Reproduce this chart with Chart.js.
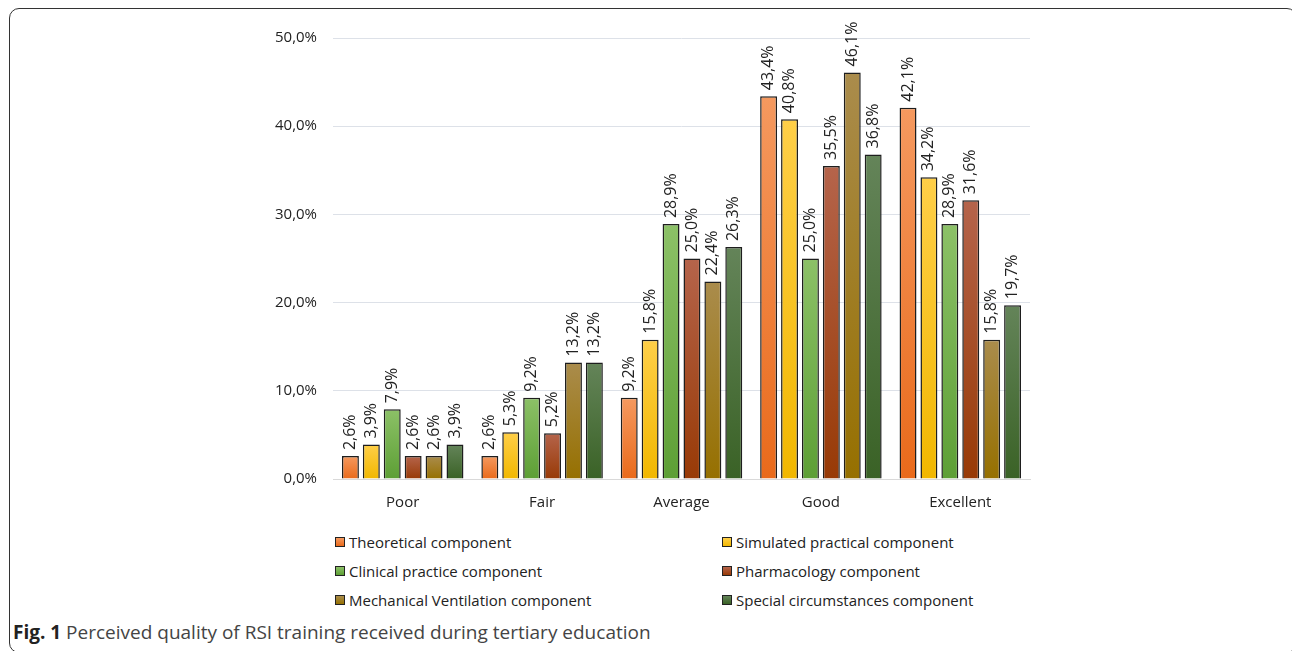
<!DOCTYPE html>
<html lang="en">
<head>
    <meta charset="UTF-8">
    <title>Perceived quality of RSI training</title>
    <script src="https://cdn.jsdelivr.net/npm/chart.js"></script>
    <style>
        body { margin: 0; background: #fff; font-family: "Open Sans", sans-serif; }
        .frame {
            position: absolute; left: 9px; top: 8px; width: 1288px; height: 645px;
            border: 1.5px solid #333; border-radius: 10px; box-sizing: border-box;
        }
        .chart-box { position: absolute; left: 240px; top: 0; width: 840px; height: 520px; }
        .legend {
            position: absolute; left: 335px; top: 532px;
            display: grid; grid-template-columns: 387px auto; row-gap: 9px;
            font-size: 15px; line-height: 20px; color: #222;
        }
        .legend-item { display: flex; align-items: center; white-space: nowrap; }
        .legend-item i {
            display: inline-block; width: 8px; height: 8px; margin-right: 4px;
            border: 1.2px solid #222;
        }
        .caption {
            position: absolute; left: 13px; top: 620px;
            font-size: 19px; line-height: 24px; color: #444; white-space: nowrap;
        }
        .caption b { color: #222; }
    </style>
</head>
<body>
    <div class="frame"></div>
    <div class="chart-box"><canvas id="rsiChart"></canvas></div>
    <div class="legend" id="legend"></div>
    <div class="caption"><b>Fig. 1</b> Perceived quality of RSI training received during tertiary education</div>

    <script>
        // カテゴリと各シリーズ（%）
        const categories = ['Poor', 'Fair', 'Average', 'Good', 'Excellent'];
        const seriesNames = [
            'Theoretical component',
            'Simulated practical component',
            'Clinical practice component',
            'Pharmacology component',
            'Mechanical Ventilation component',
            'Special circumstances component'
        ];
        const theoretical = [2.6, 2.6, 9.2, 43.4, 42.1];
        const simulated   = [3.9, 5.3, 15.8, 40.8, 34.2];
        const clinical    = [7.9, 9.2, 28.9, 25.0, 28.9];
        const pharmacology = [2.6, 5.2, 25.0, 35.5, 31.6];
        const ventilation = [2.6, 13.2, 22.4, 46.1, 15.8];
        const special     = [3.9, 13.2, 26.3, 36.8, 19.7];
        const yTicks = [0, 10, 20, 30, 40, 50];

        // 上の色 / 下の色（グラデーション）
        const topColors    = ['#f5995f', '#ffcf48', '#8cc167', '#b5644b', '#aa8c4c', '#648459'];
        const bottomColors = ['#e96a1b', '#f1b700', '#5d9f35', '#983a06', '#967000', '#3a6226'];

        const fmt = v => v.toFixed(1).replace('.', ',') + '%';

        function barFill(top, bottom) {
            return c => {
                const chart = c.chart;
                if (!chart.chartArea || c.type !== 'data' || !chart.scales.y) return bottom;
                const y = chart.scales.y;
                const g = chart.ctx.createLinearGradient(0, y.getPixelForValue(c.raw), 0, y.getPixelForValue(0));
                g.addColorStop(0, top);
                g.addColorStop(1, bottom);
                return g;
            };
        }

        const values = [theoretical, simulated, clinical, pharmacology, ventilation, special];
        const datasets = values.map((data, i) => ({
            label: seriesNames[i],
            data: data,
            backgroundColor: barFill(topColors[i], bottomColors[i]),
            borderColor: '#1e1e1e',
            borderWidth: 1.5,
            categoryPercentage: 0.9,
            barPercentage: 0.81
        }));

        // 棒の上に縦書きラベル
        const barLabels = {
            id: 'barLabels',
            afterDatasetsDraw(chart) {
                const ctx = chart.ctx;
                ctx.save();
                ctx.font = '16px "Open Sans"';
                ctx.fillStyle = '#222';
                ctx.textAlign = 'left';
                ctx.textBaseline = 'middle';
                chart.data.datasets.forEach((ds, i) => {
                    chart.getDatasetMeta(i).data.forEach((bar, j) => {
                        ctx.save();
                        ctx.translate(bar.x, bar.y - 6);
                        ctx.rotate(-Math.PI / 2);
                        ctx.fillText(fmt(ds.data[j]), 0, 0);
                        ctx.restore();
                    });
                });
                ctx.restore();
            }
        };

        new Chart(document.getElementById('rsiChart'), {
            type: 'bar',
            data: { labels: categories, datasets: datasets },
            options: {
                responsive: true,
                maintainAspectRatio: false,
                animation: false,
                layout: { padding: { top: 38, right: 50, left: 0, bottom: 0 } },
                plugins: {
                    legend: { display: false },
                    tooltip: { enabled: false }
                },
                scales: {
                    x: {
                        grid: { display: false },
                        border: { display: true, color: '#d9d9d9', width: 1 },
                        ticks: { color: '#222', font: { family: 'Open Sans', size: 15 }, padding: 7 },
                        afterFit: s => { s.height = 41; }
                    },
                    y: {
                        min: 0,
                        max: 50,
                        afterBuildTicks: s => { s.ticks = yTicks.map(v => ({ value: v })); },
                        grid: { color: '#dde1e8', lineWidth: 1, drawTicks: false },
                        border: { display: false },
                        ticks: {
                            color: '#222',
                            font: { family: 'Open Sans', size: 15 },
                            padding: 16,
                            callback: v => fmt(v)
                        },
                        afterFit: s => { s.width = 93; }
                    }
                }
            },
            plugins: [barLabels]
        });

        // 凡例（2列）
        const legend = document.getElementById('legend');
        seriesNames.forEach((name, i) => {
            const item = document.createElement('div');
            item.className = 'legend-item';
            item.innerHTML = `<i style="background: linear-gradient(${topColors[i]}, ${bottomColors[i]})"></i>${name}`;
            legend.appendChild(item);
        });
    </script>
</body>
</html>
